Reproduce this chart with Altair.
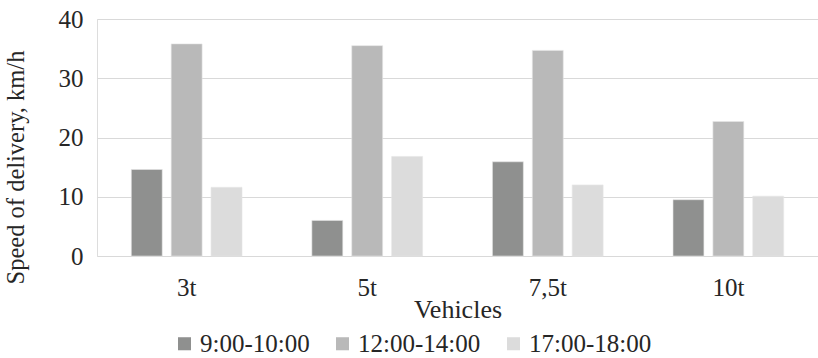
import altair as alt
import pandas as pd

vehicles = ["3t", "5t", "7,5t", "10t"]
periods = ["9:00-10:00", "12:00-14:00", "17:00-18:00"]
speed_9_10 = [14.6, 6.0, 15.9, 9.5]
speed_12_14 = [35.8, 35.5, 34.7, 22.7]
speed_17_18 = [11.6, 16.8, 12.0, 10.1]

colors = ["#8f908f", "#b9b9b9", "#dcdcdc"]

rows = []
for series_name, vals in zip(periods, [speed_9_10, speed_12_14, speed_17_18]):
    for v, s in zip(vehicles, vals):
        rows.append({"Vehicle": v, "Period": series_name, "Speed": s})
df = pd.DataFrame(rows)

FONT = "Liberation Serif, Times New Roman, Times, serif"
TXT = "#262626"

chart = alt.Chart(df).mark_bar(stroke="#e6e6e6", strokeWidth=0.6).encode(
    x=alt.X(
        "Vehicle:N",
        sort=vehicles,
        scale=alt.Scale(paddingInner=0.387, paddingOuter=0.19),
        axis=alt.Axis(
            title="Vehicles",
            labelAngle=0,
            domain=False,
            ticks=False,
            labelPadding=19,
            labelFontSize=25,
            titleFontSize=26,
            titleFontWeight="normal",
            titleBaseline="middle",
            titleY=53,
        ),
    ),
    xOffset=alt.XOffset(
        "Period:N",
        sort=periods,
        scale=alt.Scale(paddingInner=0.225, paddingOuter=0),
    ),
    y=alt.Y(
        "Speed:Q",
        scale=alt.Scale(domain=[0, 40], nice=False),
        axis=alt.Axis(
            title="Speed of delivery, km/h",
            values=[0, 10, 20, 30, 40],
            domain=False,
            ticks=False,
            labelPadding=14,
            labelFontSize=25,
            titleFontSize=24.5,
            titleFontWeight="normal",
            gridColor="#d9d9d9",
            gridWidth=1.2,
            titleBaseline="middle",
            titleX=-81,
            titleY=148,
        ),
    ),
    color=alt.Color(
        "Period:N",
        sort=periods,
        scale=alt.Scale(domain=periods, range=colors),
        legend=alt.Legend(
            title=None,
            orient="none",
            direction="horizontal",
            legendX=75,
            legendY=312,
            symbolType="square",
            symbolSize=170,
            symbolStrokeWidth=0,
            labelFontSize=25,
            columnPadding=20,
            labelOffset=3,
        ),
    ),
).properties(
    width=721,
    height=237,
    autosize=alt.AutoSizeParams(type="none"),
    padding={"left": 97, "top": 19, "right": 0, "bottom": 102},
).configure_view(
    stroke=None
).configure(
    font=FONT,
).configure_axis(
    labelFont=FONT,
    titleFont=FONT,
    labelColor=TXT,
    titleColor=TXT,
).configure_legend(
    labelFont=FONT,
    labelColor=TXT,
)

chart.save("out.html", embed_options={"renderer": "svg", "actions": False})
